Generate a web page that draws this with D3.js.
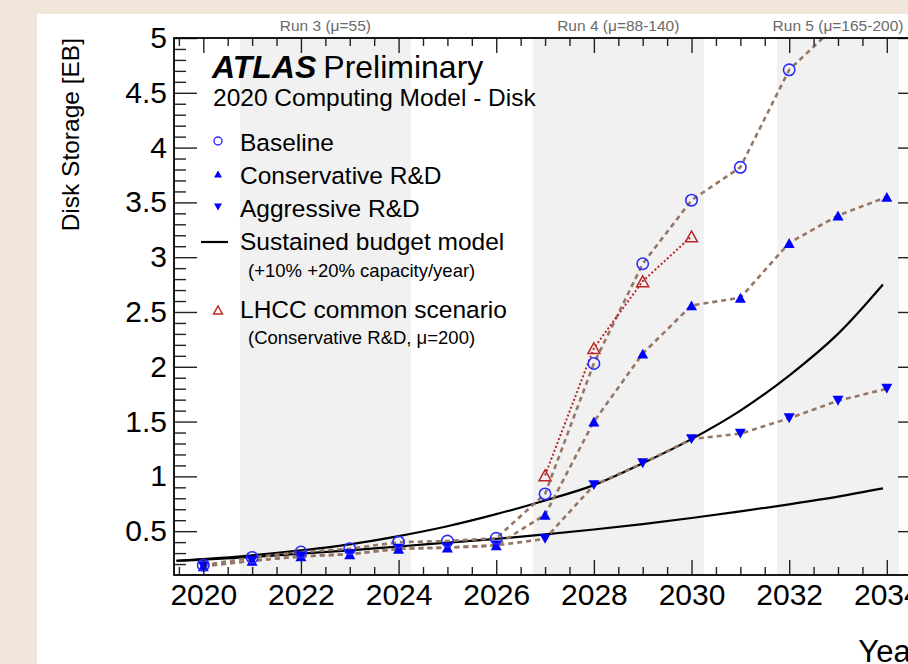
<!DOCTYPE html>
<html>
<head>
<meta charset="utf-8">
<script src="https://cdn.jsdelivr.net/npm/d3@7/dist/d3.min.js"></script>
<style>
  body { margin: 0; background: #f0e6d9; }
  svg { display: block; font-family: "Liberation Sans", Arial, sans-serif; }
</style>
</head>
<body>
<svg id="grafico" width="908" height="664"></svg>
<script>
// Datos (EB)
var years = [2020, 2021, 2022, 2023, 2024, 2025, 2026, 2027, 2028, 2029, 2030, 2031, 2032, 2033, 2034];
var baseline = [0.19, 0.26, 0.31, 0.34, 0.40, 0.41, 0.435, 0.84, 2.03, 2.94, 3.52, 3.82, 4.71, 5.13];
var conservative = [0.18, 0.23, 0.27, 0.29, 0.34, 0.35, 0.37, 0.65, 1.50, 2.12, 2.56, 2.63, 3.13, 3.38, 3.55];
var aggressive = [0.18, 0.23, 0.27, 0.29, 0.34, 0.35, 0.37, 0.43, 0.92, 1.12, 1.34, 1.39, 1.53, 1.69, 1.80];
var lhccYears = [2027, 2028, 2029, 2030];
var lhcc = [1.01, 2.17, 2.78, 3.19];

// Modelo de presupuesto sostenido (+10% y +20% por año)
var budgetYears = [2019.45, 2020, 2021, 2022, 2023, 2024, 2025, 2026, 2027, 2028, 2029, 2030, 2031, 2032, 2033, 2033.92];
var budget10 = [0.23, 0.24, 0.265, 0.295, 0.325, 0.36, 0.395, 0.43, 0.47, 0.515, 0.565, 0.62, 0.68, 0.745, 0.815, 0.89];
var budget20 = [0.23, 0.245, 0.28, 0.325, 0.38, 0.455, 0.545, 0.655, 0.78, 0.92, 1.12, 1.34, 1.60, 1.92, 2.30, 2.75];

// Periodos de toma de datos
var runLabels = ["Run 3 (\u03bc=55)", "Run 4 (\u03bc=88-140)", "Run 5 (\u03bc=165-200)"];
var runStart = [2020.75, 2026.75, 2031.75];
var runEnd = [2024.25, 2030.25, 2034.25];

var xMajor = [2020, 2022, 2024, 2026, 2028, 2030, 2032, 2034];
var yMajor = [0.5, 1, 1.5, 2, 2.5, 3, 3.5, 4, 4.5, 5];

var svg = d3.select("#grafico");

// Panel blanco
svg.append("rect").attr("x", 37).attr("y", 14).attr("width", 871).attr("height", 650).attr("fill", "#fff");

var pLeft = 174, pRight = 921, pTop = 38, pBottom = 575;
var x = d3.scaleLinear().domain([2019.4, 2034.7]).range([pLeft, pRight]);
var y = d3.scaleLinear().domain([0.1, 5]).range([pBottom, pTop]);

svg.append("clipPath").attr("id", "clip")
  .append("rect").attr("x", pLeft).attr("y", pTop).attr("width", pRight - pLeft).attr("height", pBottom - pTop);

// Bandas grises de cada Run
for (var i = 0; i < runLabels.length; i++) {
  svg.append("rect")
    .attr("x", x(runStart[i])).attr("y", pTop)
    .attr("width", x(runEnd[i]) - x(runStart[i])).attr("height", pBottom - pTop)
    .attr("fill", "#f1f1f1");
  svg.append("text")
    .attr("x", (x(runStart[i]) + x(runEnd[i])) / 2).attr("y", 31)
    .attr("text-anchor", "middle").attr("font-size", 15.5).attr("fill", "#6a6a6a")
    .text(runLabels[i]);
}

var plot = svg.append("g").attr("clip-path", "url(#clip)");

function pares(xs, vs) {
  return vs.map(function(v, j) { return [xs[j], v]; });
}

// Curvas del presupuesto
var curve = d3.line()
  .x(function(d) { return x(d[0]); })
  .y(function(d) { return y(d[1]); })
  .curve(d3.curveCatmullRom.alpha(0.5));

[budget10, budget20].forEach(function(serie) {
  plot.append("path")
    .datum(pares(budgetYears, serie))
    .attr("d", curve)
    .attr("fill", "none").attr("stroke", "#000").attr("stroke-width", 2.2);
});

var line = d3.line()
  .x(function(d) { return x(d[0]); })
  .y(function(d) { return y(d[1]); });

// Lineas punteadas de los escenarios
[baseline, conservative, aggressive].forEach(function(serie) {
  plot.append("path")
    .datum(pares(years, serie))
    .attr("d", line)
    .attr("fill", "none").attr("stroke", "#957766").attr("stroke-width", 2.6)
    .attr("stroke-dasharray", "5,4");
});

plot.append("path")
  .datum(pares(lhccYears, lhcc))
  .attr("d", line)
  .attr("fill", "none").attr("stroke", "#b8282a").attr("stroke-width", 2)
  .attr("stroke-dasharray", "2,2.2");

// Marcadores
function triUp(cx, cy, r) {
  return "M" + (cx - r) + "," + (cy + r * 0.9) + "L" + (cx + r) + "," + (cy + r * 0.9) + "L" + cx + "," + (cy - r * 0.9) + "Z";
}
function triDown(cx, cy, r) {
  return "M" + (cx - r) + "," + (cy - r * 0.9) + "L" + (cx + r) + "," + (cy - r * 0.9) + "L" + cx + "," + (cy + r * 0.9) + "Z";
}

plot.selectAll(".cons").data(pares(years, conservative)).enter()
  .append("path").attr("class", "cons")
  .attr("d", function(d) { return triUp(x(d[0]), y(d[1]), 5.5); })
  .attr("fill", "#0000ff");

plot.selectAll(".aggr").data(pares(years, aggressive)).enter()
  .append("path").attr("class", "aggr")
  .attr("d", function(d) { return triDown(x(d[0]), y(d[1]), 5.5); })
  .attr("fill", "#0000ff");

plot.selectAll(".base").data(pares(years, baseline)).enter()
  .append("circle").attr("class", "base")
  .attr("cx", function(d) { return x(d[0]); })
  .attr("cy", function(d) { return y(d[1]); })
  .attr("r", 5.7)
  .attr("fill", "none").attr("stroke", "#2a2aff").attr("stroke-width", 1.6);

plot.selectAll(".lhcc").data(pares(lhccYears, lhcc)).enter()
  .append("path").attr("class", "lhcc")
  .attr("d", function(d) { return triUp(x(d[0]), y(d[1]), 6); })
  .attr("fill", "none").attr("stroke", "#b8282a").attr("stroke-width", 1.5);

// Ejes con marcas hacia dentro
var xMinor = d3.range(2019.5, 2034.7, 0.5).filter(function(v) { return v % 2 !== 0; });
var yMinor = d3.range(2, 50).map(function(v) { return v / 10; })
  .filter(function(v) { return Math.round(v * 10) % 5 !== 0; });

function estiloEje(g) {
  g.selectAll("line").attr("stroke", "#222").attr("stroke-width", 1.4);
  g.select(".domain").remove();
}

svg.append("g").attr("transform", "translate(0," + pBottom + ")")
  .call(d3.axisBottom(x).tickValues(xMinor).tickSize(-8).tickFormat(""))
  .call(estiloEje);
svg.append("g").attr("transform", "translate(0," + pBottom + ")")
  .call(d3.axisBottom(x).tickValues(xMajor).tickSize(-15).tickPadding(9).tickFormat(d3.format("d")))
  .call(estiloEje)
  .selectAll("text").attr("font-size", 30).attr("fill", "#000").attr("font-family", "Liberation Sans, Arial, sans-serif");

svg.append("g").attr("transform", "translate(0," + pTop + ")")
  .call(d3.axisTop(x).tickValues(xMinor).tickSize(-8).tickFormat(""))
  .call(estiloEje);
svg.append("g").attr("transform", "translate(0," + pTop + ")")
  .call(d3.axisTop(x).tickValues(xMajor).tickSize(-15).tickFormat(""))
  .call(estiloEje);

svg.append("g").attr("transform", "translate(" + pLeft + ",0)")
  .call(d3.axisLeft(y).tickValues(yMinor).tickSize(-12).tickFormat(""))
  .call(estiloEje);
svg.append("g").attr("transform", "translate(" + pLeft + ",0)")
  .call(d3.axisLeft(y).tickValues(yMajor).tickSize(-23).tickPadding(7).tickFormat(d3.format("")))
  .call(estiloEje)
  .selectAll("text").attr("font-size", 30).attr("fill", "#000").attr("font-family", "Liberation Sans, Arial, sans-serif");

svg.append("g").attr("transform", "translate(" + pRight + ",0)")
  .call(d3.axisRight(y).tickValues(yMinor).tickSize(-12).tickFormat(""))
  .call(estiloEje);
svg.append("g").attr("transform", "translate(" + pRight + ",0)")
  .call(d3.axisRight(y).tickValues(yMajor).tickSize(-23).tickFormat(""))
  .call(estiloEje);

// Marco
svg.append("rect").attr("x", pLeft).attr("y", pTop).attr("width", pRight - pLeft).attr("height", pBottom - pTop)
  .attr("fill", "none").attr("stroke", "#000").attr("stroke-width", 1.8);

// Titulos de los ejes
svg.append("text")
  .attr("transform", "translate(79," + pTop + ") rotate(-90)")
  .attr("text-anchor", "end").attr("font-size", 24.5)
  .text("Disk Storage [EB]");
svg.append("text")
  .attr("x", pRight).attr("y", 662).attr("text-anchor", "end").attr("font-size", 31)
  .text("Year");

// Etiqueta ATLAS
var atlas = svg.append("text").attr("x", 212).attr("y", 78).attr("font-size", 32);
atlas.append("tspan").attr("font-weight", "bold").attr("font-style", "italic").text("ATLAS");
atlas.append("tspan").attr("dx", 7).text("Preliminary");
svg.append("text").attr("x", 213).attr("y", 106).attr("font-size", 24.5).text("2020 Computing Model - Disk");

// Leyenda
var lx = 218, tx = 240;
svg.append("circle").attr("cx", lx).attr("cy", 141).attr("r", 4)
  .attr("fill", "none").attr("stroke", "#2a2aff").attr("stroke-width", 1.4);
svg.append("path").attr("d", triUp(lx, 174, 4)).attr("fill", "#0000ff");
svg.append("path").attr("d", triDown(lx, 207, 4)).attr("fill", "#0000ff");
svg.append("line").attr("x1", 201).attr("x2", 228).attr("y1", 242).attr("y2", 242)
  .attr("stroke", "#000").attr("stroke-width", 2.2);
svg.append("path").attr("d", triUp(lx, 310, 4.5)).attr("fill", "none")
  .attr("stroke", "#b8282a").attr("stroke-width", 1.4);

var legendText = [["Baseline", 151], ["Conservative R&D", 184], ["Aggressive R&D", 217],
  ["Sustained budget model", 250], ["LHCC common scenario", 318]];
legendText.forEach(function(t) {
  svg.append("text").attr("x", tx).attr("y", t[1]).attr("font-size", 24.5).text(t[0]);
});
svg.append("text").attr("x", 248).attr("y", 277).attr("font-size", 18.5).text("(+10% +20% capacity/year)");
svg.append("text").attr("x", 248).attr("y", 344).attr("font-size", 18.5).text("(Conservative R&D, \u03bc=200)");
</script>
</body>
</html>
